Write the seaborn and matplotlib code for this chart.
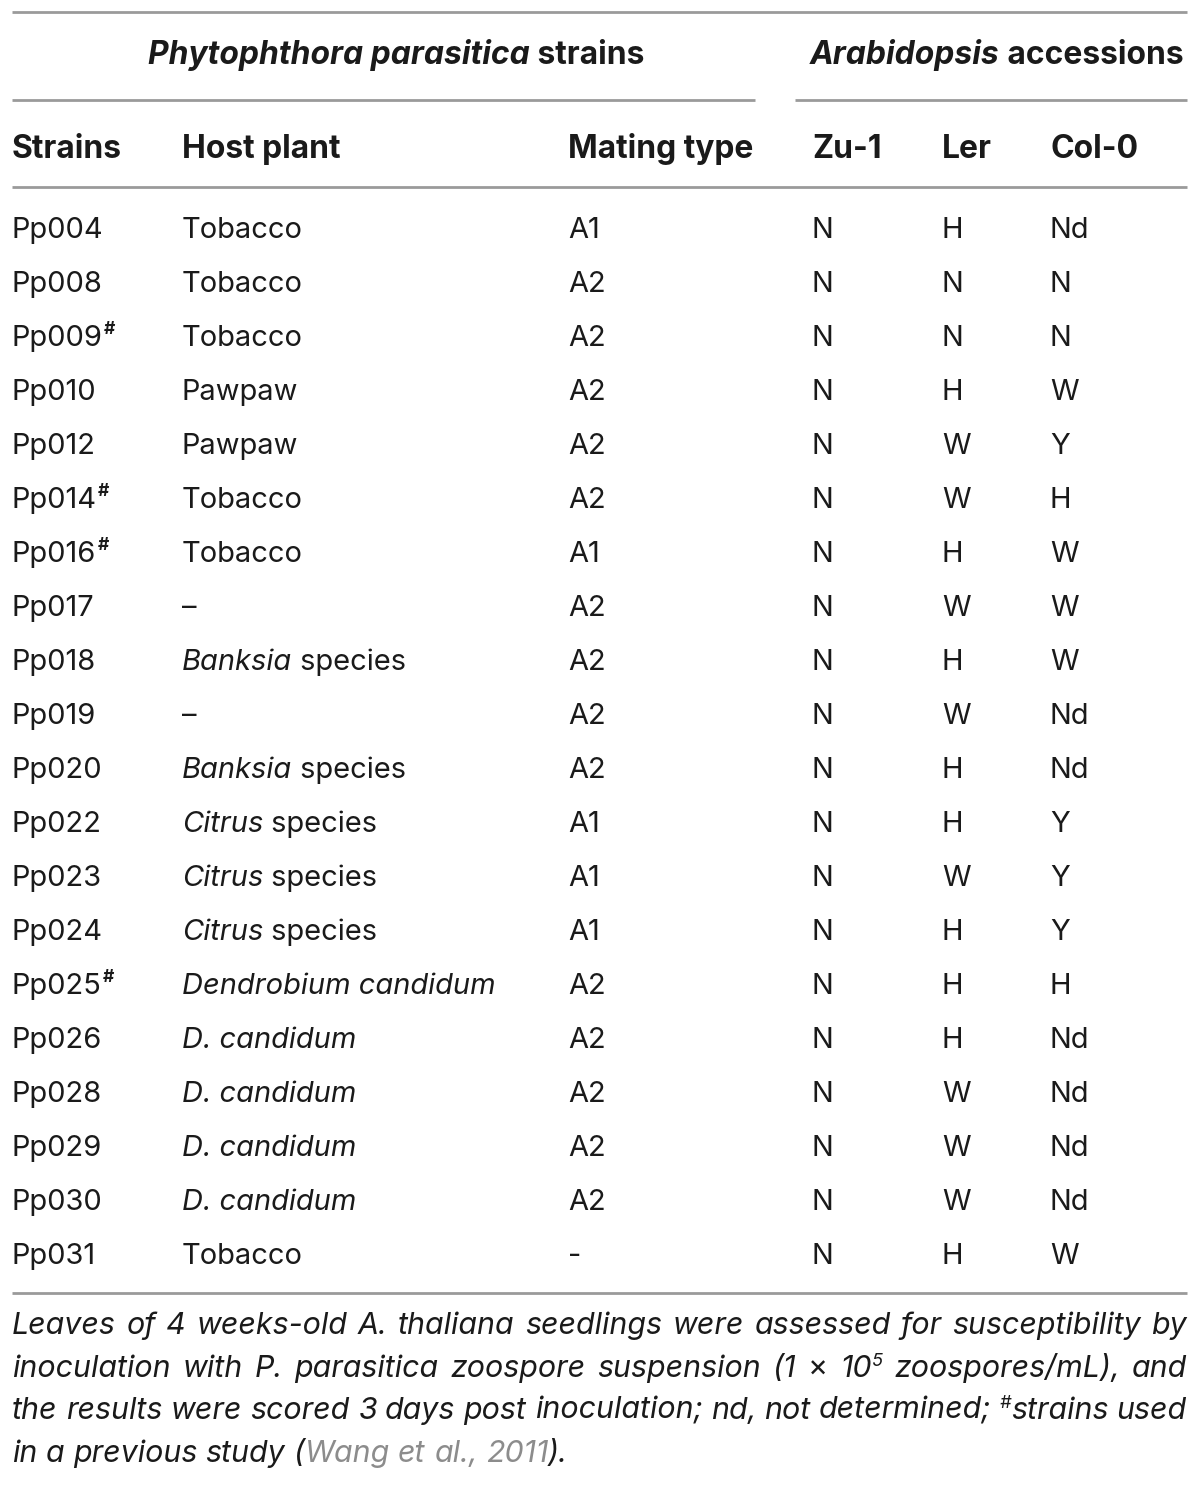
import matplotlib
matplotlib.use("Agg")
import matplotlib.pyplot as plt
import seaborn as sns

sns.set_theme(style="white")
plt.rcParams['font.family'] = ['Inter', 'DejaVu Sans']

# Table data
strains = ["Pp004", "Pp008", "Pp009", "Pp010", "Pp012", "Pp014", "Pp016", "Pp017",
           "Pp018", "Pp019", "Pp020", "Pp022", "Pp023", "Pp024", "Pp025", "Pp026",
           "Pp028", "Pp029", "Pp030", "Pp031"]
used_before = ["Pp009", "Pp014", "Pp016", "Pp025"]
host_plant = ["Tobacco", "Tobacco", "Tobacco", "Pawpaw", "Pawpaw", "Tobacco", "Tobacco", "\u2013",
              "*Banksia* species", "\u2013", "*Banksia* species", "*Citrus* species",
              "*Citrus* species", "*Citrus* species", "*Dendrobium candidum*", "*D. candidum*",
              "*D. candidum*", "*D. candidum*", "*D. candidum*", "Tobacco"]
mating_type = ["A1", "A2", "A2", "A2", "A2", "A2", "A1", "A2", "A2", "A2", "A2", "A1",
               "A1", "A1", "A2", "A2", "A2", "A2", "A2", "-"]
zu1 = ["N"] * 20
ler = ["H", "N", "N", "H", "W", "W", "H", "W", "H", "W", "H", "H", "W", "H", "H", "H",
       "W", "W", "W", "H"]
col0 = ["Nd", "N", "N", "W", "Y", "H", "W", "W", "W", "Nd", "Nd", "Y", "Y", "Y", "H", "Nd",
        "Nd", "Nd", "Nd", "W"]

col_headers = ["Strains", "Host plant", "Mating type", "Zu-1", "Ler", "Col-0"]
col_x = [12, 182, 568, 812, 942, 1050]

TXT = "#1a1a1a"
RULE = "#9a9a9a"
GRAY = "#8c8c8c"

fig = plt.figure(figsize=(12, 14.85), dpi=100)
ax = fig.add_axes([0, 0, 1, 1])
ax.set_xlim(0, 1200)
ax.set_ylim(1485, 0)
ax.axis("off")
renderer = fig.canvas.get_renderer()


def width(t):
    return t.get_window_extent(renderer).width


def fit(s, target, **kw):
    t = ax.text(0, 0, s, fontsize=20, **kw)
    w = width(t)
    t.remove()
    return 20 * target / w


FS = fit("Tobacco", 121, fontweight="normal")
HFS = fit("Mating type", 186, fontweight="bold")


def draw_marked(x, y, s):
    # '*' toggles italic
    for i, p in enumerate(s.split("*")):
        if not p:
            continue
        t = ax.text(x, y, p, ha="left", va="baseline", color=TXT, fontsize=FS,
                    fontstyle="italic" if i % 2 else "normal")
        x += width(t)
    return x


# rules
for x0, x1, y in [(12, 1187, 12), (12, 755, 100), (795, 1187, 100),
                  (12, 1187, 187), (12, 1187, 1293)]:
    ax.plot([x0, x1], [y, y], color=RULE, lw=2, solid_capstyle="butt")

# group headers
for x, parts in [(148, [("Phytophthora parasitica", "italic"), (" strains", "normal")]),
                 (810, [("Arabidopsis", "italic"), (" accessions", "normal")])]:
    for txt, st in parts:
        t = ax.text(x, 64, txt, ha="left", va="baseline", color=TXT, fontsize=HFS,
                    fontweight="bold", fontstyle=st)
        x += width(t)

for h, cx in zip(col_headers, col_x):
    ax.text(cx, 158, h, ha="left", va="baseline", color=TXT, fontsize=HFS, fontweight="bold")

# rows
for i in range(len(strains)):
    yb = 238 + i * 54
    t = ax.text(col_x[0], yb, strains[i], ha="left", va="baseline", color=TXT, fontsize=FS)
    if strains[i] in used_before:
        ax.text(col_x[0] + width(t) + 1, yb - 12, "#", ha="left", va="baseline",
                color=TXT, fontsize=FS * 0.6, fontweight="bold")
    draw_marked(col_x[1], yb, host_plant[i])
    for cx, vals in zip(col_x[2:], [mating_type, zu1, ler, col0]):
        ax.text(cx, yb, vals[i], ha="left", va="baseline", color=TXT, fontsize=FS)

# footnote (justified italic)
sup = {"scale": 0.6, "dy": -11}
foot_lines = [
    [[("Leaves", {})], [("of", {})], [("4", {})], [("weeks-old", {})], [("A.", {})],
     [("thaliana", {})], [("seedlings", {})], [("were", {})], [("assessed", {})],
     [("for", {})], [("susceptibility", {})], [("by", {})]],
    [[("inoculation", {})], [("with", {})], [("P.", {})], [("parasitica", {})],
     [("zoospore", {})], [("suspension", {})], [("(1", {})], [("\u00d7", {"style": "normal"})],
     [("10", {}), ("5", sup)], [("zoospores/mL),", {})], [("and", {})]],
    [[("the", {})], [("results", {})], [("were", {})], [("scored", {})], [("3", {})],
     [("days", {})], [("post", {})], [("inoculation;", {})], [("nd,", {})], [("not", {})],
     [("determined;", {})], [("#", sup), ("strains", {})], [("used", {})]],
    [[("in", {})], [("a", {})], [("previous", {})], [("study", {})],
     [("(", {}), ("Wang", {"color": GRAY})], [("et", {"color": GRAY})],
     [("al.,", {"color": GRAY})], [("2011", {"color": GRAY}), (").", {})]],
]
FN = fit("inoculation with P. parasitica zoospore suspension (1 \u00d7 105 zoospores/mL), and",
         1150, fontstyle="italic")
foot_y = [1334, 1377, 1419, 1462]
left, right = 12, 1187
for li, (words, yb) in enumerate(zip(foot_lines, foot_y)):
    arts = []
    total = 0
    for w in words:
        segs = []
        for txt, opt in w:
            t = ax.text(0, yb + opt.get("dy", 0), txt, ha="left", va="baseline",
                        color=opt.get("color", TXT), fontsize=FN * opt.get("scale", 1),
                        fontstyle=opt.get("style", "italic"))
            wd = width(t)
            segs.append((t, wd))
            total += wd
        arts.append(segs)
    if li < len(foot_lines) - 1:
        gap = (right - left - total) / (len(words) - 1)
    else:
        gap = FN * 0.38
    x = left
    for segs in arts:
        for t, wd in segs:
            t.set_x(x)
            x += wd
        x += gap

fig.savefig("out.png", dpi=100, facecolor="white")
